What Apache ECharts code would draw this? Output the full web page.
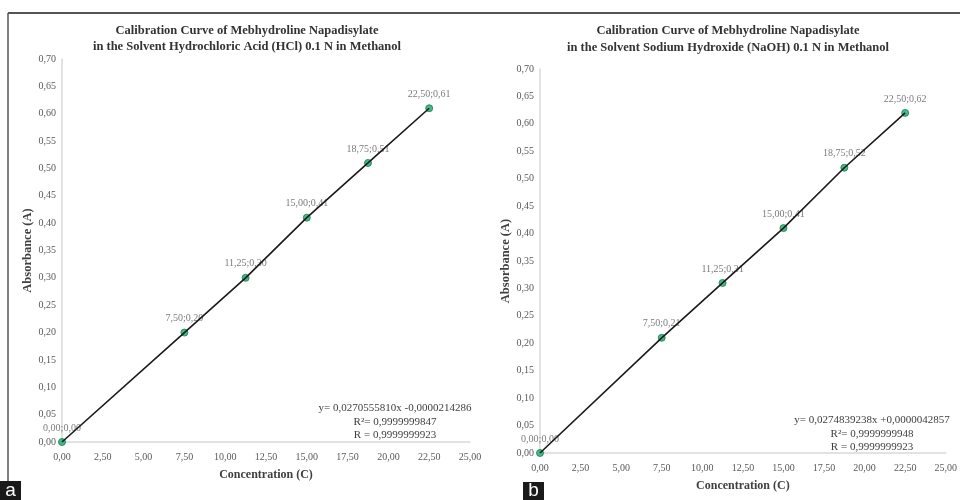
<!DOCTYPE html>
<html><head><meta charset="utf-8">
<script src="https://cdn.jsdelivr.net/npm/echarts@6/dist/echarts.min.js"></script>
<style>html,body{margin:0;padding:0;background:#fff}#c{width:960px;height:500px}</style>
</head><body><div id="c"></div>
<script>
const concentration = [0, 7.5, 11.25, 15, 18.75, 22.5];
const absorbanceHCl = [0, 0.20, 0.30, 0.41, 0.51, 0.61];
const absorbanceNaOH = [0, 0.21, 0.31, 0.41, 0.52, 0.62];
const xTickLabels = ['0,00','2,50','5,00','7,50','10,00','12,50','15,00','17,50','20,00','22,50','25,00'];
const yTickLabels = ['0,00','0,05','0,10','0,15','0,20','0,25','0,30','0,35','0,40','0,45','0,50','0,55','0,60','0,65','0,70'];
const titleHCl = ['Calibration Curve of Mebhydroline Napadisylate', 'in the Solvent Hydrochloric Acid (HCl) 0.1 N in Methanol'];
const titleNaOH = ['Calibration Curve of Mebhydroline Napadisylate', 'in the Solvent Sodium Hydroxide (NaOH) 0.1 N in Methanol'];
const eqHCl = ['y= 0,0270555810x -0,0000214286', 'R\u00b2= 0,9999999847', 'R = 0,9999999923'];
const eqNaOH = ['y= 0,0274839238x +0,0000042857', 'R\u00b2= 0,9999999948', 'R = 0,9999999923'];
const xName = 'Concentration (C)';
const yName = 'Absorbance (A)';
const panelLetters = ['a', 'b'];

const SERIF = '"Liberation Serif", "DejaVu Serif", serif';
const chart = echarts.init(document.getElementById('c'), null, {renderer: 'canvas'});

function fmtNum(v) { return v.toFixed(2).replace('.', ','); }
function pairs(ys) { return concentration.map((x, i) => [x, ys[i]]); }

function xAxis(gi) {
  return {
    type: 'value', gridIndex: gi, min: 0, max: 25, interval: 2.5,
    name: xName, nameLocation: 'middle', nameGap: 27,
    nameTextStyle: {fontFamily: SERIF, fontWeight: 'bold', fontSize: 12, color: '#404040'},
    axisLine: {show: true, lineStyle: {color: '#d9d9d9', width: 1.5}},
    axisTick: {show: false}, splitLine: {show: false},
    axisLabel: {fontFamily: SERIF, fontSize: 10, color: '#595959', margin: 10,
      formatter: v => xTickLabels[Math.round(v / 2.5)]}
  };
}
function yAxis(gi) {
  return {
    type: 'value', gridIndex: gi, min: 0, max: 0.7, interval: 0.05,
    name: yName, nameLocation: 'middle', nameGap: 26,
    nameTextStyle: {fontFamily: SERIF, fontWeight: 'bold', fontSize: 12.5, color: '#404040'},
    axisLine: {show: true, lineStyle: {color: '#d9d9d9', width: 1.5}},
    axisTick: {show: false}, splitLine: {show: false},
    axisLabel: {fontFamily: SERIF, fontSize: 10, color: '#595959', margin: 6,
      formatter: v => yTickLabels[Math.round(v / 0.05)]}
  };
}
function scatter(gi, ys) {
  return {
    type: 'scatter', xAxisIndex: gi, yAxisIndex: gi, data: pairs(ys),
    symbol: 'circle', symbolSize: 7, z: 2,
    itemStyle: {color: '#19a86c', borderColor: '#12804f', borderWidth: 1},
    label: {show: true, position: 'top', distance: 5, fontFamily: SERIF, fontSize: 10, color: '#595959',
      formatter: p => fmtNum(p.value[0]) + ';' + fmtNum(p.value[1])}
  };
}
function trend(gi, ys) {
  return {
    type: 'line', xAxisIndex: gi, yAxisIndex: gi, data: pairs(ys),
    showSymbol: false, symbol: 'none', z: 3, silent: true,
    lineStyle: {color: '#1a1a1a', width: 1.6}
  };
}
function txt(s, x, y, opts) {
  return Object.assign({
    type: 'text', x: x, y: y, z: 10,
    style: {text: s, textAlign: 'center', textVerticalAlign: 'middle',
      fontFamily: SERIF, fontSize: 11, fill: '#404040'}
  }, opts || {});
}
function boldTxt(s, x, y) {
  const t = txt(s, x, y);
  t.style.fontWeight = 'bold';
  t.style.fontSize = 12.5;
  t.style.fill = '#333333';
  return t;
}

const graphics = [
  {type: 'line', shape: {x1: 8, y1: 13, x2: 960, y2: 13}, style: {stroke: '#555555', lineWidth: 2}},
  {type: 'line', shape: {x1: 8, y1: 13, x2: 8, y2: 482}, style: {stroke: '#555555', lineWidth: 1.5}},
  boldTxt(titleHCl[0], 247, 31), boldTxt(titleHCl[1], 247, 47),
  boldTxt(titleNaOH[0], 728, 31), boldTxt(titleNaOH[1], 728, 48),
  txt(eqHCl[0], 395, 408), txt(eqHCl[1], 395, 422), txt(eqHCl[2], 395, 435),
  txt(eqNaOH[0], 872, 420), txt(eqNaOH[1], 872, 434), txt(eqNaOH[2], 872, 447),
  {type: 'rect', shape: {x: 0, y: 481, width: 21, height: 19}, style: {fill: '#1a1a1a'}},
  {type: 'rect', shape: {x: 523, y: 482, width: 21, height: 18}, style: {fill: '#1a1a1a'}},
  {type: 'text', x: 10.5, y: 491, z: 11, style: {text: panelLetters[0], textAlign: 'center', textVerticalAlign: 'middle', fontFamily: '"Liberation Sans", Arial, sans-serif', fontSize: 19, fill: '#ffffff'}},
  {type: 'text', x: 533.5, y: 491, z: 11, style: {text: panelLetters[1], textAlign: 'center', textVerticalAlign: 'middle', fontFamily: '"Liberation Sans", Arial, sans-serif', fontSize: 19, fill: '#ffffff'}}
];

chart.setOption({
  animation: false,
  backgroundColor: '#ffffff',
  grid: [
    {left: 62, top: 59, width: 408, height: 383, containLabel: false},
    {left: 540, top: 69, width: 412, height: 384, containLabel: false}
  ],
  xAxis: [xAxis(0), xAxis(1)],
  yAxis: [yAxis(0), yAxis(1)],
  series: [scatter(0, absorbanceHCl), trend(0, absorbanceHCl), scatter(1, absorbanceNaOH), trend(1, absorbanceNaOH)],
  graphic: graphics
});
</script>
</body></html>
